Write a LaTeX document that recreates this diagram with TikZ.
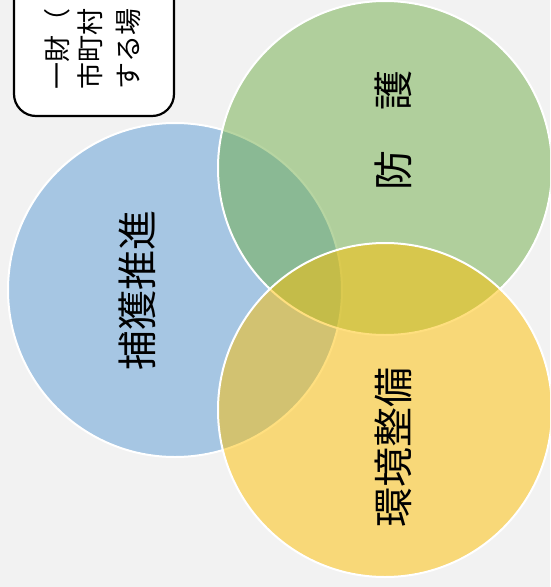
\documentclass[tikz,border=0pt]{standalone}
\usepackage{fontspec}
\newfontfamily\jp{Noto Sans CJK JP}
\definecolor{bgc}{HTML}{F2F2F2}
\definecolor{cblue}{HTML}{5B9BD5}
\definecolor{cgreen}{HTML}{70AD47}
\definecolor{cyellow}{HTML}{FFC000}
\tikzset{
  venn/.style={draw=white, line width=2pt, fill opacity=0.5, draw opacity=1},
  biglabel/.style={rotate=90, font=\jp\fontsize{40}{48}\selectfont, inner sep=0pt},
  boxtext/.style={rotate=90, anchor=west, font=\jp\fontsize{27}{32}\selectfont, inner sep=0pt},
  notebox/.style={draw=black, line width=2.2pt, fill=white, rounded corners=22pt}
}
\begin{document}
\begin{tikzpicture}[x=1pt,y=-1pt]
\useasboundingbox (0,0) rectangle (550,587);
\clip (0,0) rectangle (550,587);
\fill[bgc] (0,0) rectangle (550,587);
% note box
\draw[notebox] (14,-40) rectangle (174,116);
\node[boxtext] (l1) at (57,90) {一財（};
\node[boxtext] (l2) at (90,90) {市町村};
\node[boxtext] (l3) at (128,90) {する場};
% circles
\draw[venn, fill=cblue] (175,290) circle (167pt);
\draw[venn, fill=cgreen] (385,168) circle (167pt);
\draw[venn, fill=cyellow] (385,410) circle (167pt);
% labels
\node[biglabel] (a) at (137,290) {捕獲推進};
\node[biglabel] (b) at (393,130) {防　護};
\node[biglabel] (c) at (393,447) {環境整備};
\end{tikzpicture}
\end{document}
